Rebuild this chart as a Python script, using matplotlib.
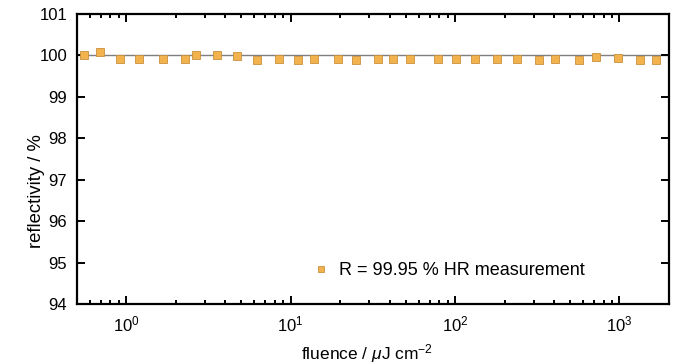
import matplotlib
matplotlib.use("Agg")
import matplotlib.pyplot as plt
from matplotlib.ticker import LogLocator, NullFormatter, MultipleLocator

plt.rcParams['font.family'] = ['Liberation Sans', 'DejaVu Sans']
plt.rcParams['mathtext.fontset'] = 'custom'
plt.rcParams['mathtext.rm'] = 'Liberation Sans'
plt.rcParams['mathtext.it'] = 'Liberation Sans:italic'
plt.rcParams['mathtext.default'] = 'regular'

# measured fluence (uJ/cm^2) and reflectivity (%)
fluence = [0.554, 0.694, 0.92, 1.2, 1.66, 2.26, 2.64, 3.55, 4.7, 6.22, 8.48,
           11.1, 13.9, 19.5, 25.1, 34.1, 41.6, 52.8, 78.3, 101, 132, 180,
           238, 324, 406, 569, 722, 985, 1342, 1680]
reflectivity = [100.00, 100.08, 99.91, 99.92, 99.91, 99.92, 100.00, 100.00,
                99.98, 99.90, 99.92, 99.89, 99.91, 99.91, 99.90, 99.91,
                99.91, 99.91, 99.92, 99.92, 99.92, 99.92, 99.92, 99.90,
                99.91, 99.90, 99.97, 99.93, 99.90, 99.89]
reference_level = 100.0
legend_label = "R = 99.95 % HR measurement"

fig = plt.figure(figsize=(6.75, 3.64), dpi=100)
ax = fig.add_axes([0.114, 0.165, 0.877, 0.7965])

ax.axhline(reference_level, color='#7f7f7f', lw=1.0, zorder=1)
ax.plot(fluence, reflectivity, ls='none', marker='s', ms=5.2,
        mfc='#f2b24e', mec='#c8903c', mew=0.6, zorder=3)
ax.plot([], [], ls='none', marker='s', ms=4.5, mfc='#f2b24e', mec='#c8903c',
        mew=0.6, label=legend_label)

ax.set_xscale('log')
ax.set_xlim(0.5, 2000)
ax.set_ylim(94, 101)
ax.yaxis.set_major_locator(MultipleLocator(1))
ax.xaxis.set_major_locator(LogLocator(base=10, numticks=10))
ax.xaxis.set_minor_locator(LogLocator(base=10, subs=range(2, 10), numticks=20))
ax.xaxis.set_minor_formatter(NullFormatter())

for s in ax.spines.values():
    s.set_linewidth(1.6)
ax.tick_params(which='both', direction='in', top=True, right=True,
               width=1.4, labelsize=12, colors='black')
ax.tick_params(which='major', length=6)
ax.tick_params(which='minor', length=3)
ax.tick_params(axis='y', which='major', pad=7)
ax.tick_params(axis='x', which='major', pad=7.5)

ax.set_xlabel(r'fluence / $\mathit{\mu}$J cm$^{-2}$', fontsize=12.5)
ax.xaxis.set_label_coords(0.49, -0.13)
ax.set_ylabel('reflectivity / %', fontsize=13.3)
ax.yaxis.set_label_coords(-0.054, 0.39)

ax.legend(loc='center left', bbox_to_anchor=(0.40, 0.114), frameon=False,
          fontsize=13, handlelength=0.8, handletextpad=0.6, borderpad=0,
          borderaxespad=0)

fig.savefig('out.png', dpi=100)
